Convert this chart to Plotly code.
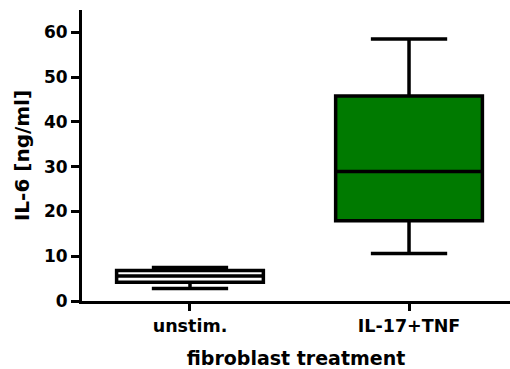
import plotly.graph_objects as go

categories = ["unstim.", "IL-17+TNF"]
lower_whisker = [2.8, 10.6]
q1_values = [4.2, 17.9]
median_values = [5.6, 28.9]
q3_values = [6.8, 45.8]
upper_whisker = [7.5, 58.5]
fill_colors = ["#ffffff", "#007a00"]
y_ticks = [0, 10, 20, 30, 40, 50, 60]

FONT = "DejaVu Sans"

fig = go.Figure()
for i, cat in enumerate(categories):
    fig.add_trace(go.Box(
        x=[cat],
        q1=[q1_values[i]],
        median=[median_values[i]],
        q3=[q3_values[i]],
        lowerfence=[lower_whisker[i]],
        upperfence=[upper_whisker[i]],
        fillcolor=fill_colors[i],
        line=dict(color="black", width=3.5),
        whiskerwidth=0.52,
        width=0.67,
        boxpoints=False,
        showlegend=False,
        hoverinfo="skip",
    ))

fig.update_layout(
    width=510, height=369,
    margin=dict(l=82, r=0, t=10, b=68),
    paper_bgcolor="white",
    plot_bgcolor="white",
    font=dict(family=FONT, color="black", size=17, weight="bold"),
    xaxis=dict(
        type="category",
        categoryorder="array",
        categoryarray=categories,
        range=[-0.493, 1.461],
        showline=True, linecolor="black", linewidth=3,
        ticks="outside", ticklen=7, tickwidth=3, tickcolor="black",
        showgrid=False, zeroline=False,
        tickfont=dict(family=FONT, size=17.5, color="black", weight="bold"),
        title=dict(text="fibroblast treatment", font=dict(family=FONT, size=19, color="black", weight="bold"), standoff=17),
    ),
    yaxis=dict(
        range=[0, 65],
        tickvals=y_ticks,
        showline=True, linecolor="black", linewidth=3,
        ticks="outside", ticklen=8, tickwidth=3, tickcolor="black",
        showgrid=False, zeroline=False,
        tickfont=dict(family=FONT, size=17, color="black", weight="bold"),
        title=dict(text="IL-6 [ng/ml]", font=dict(family=FONT, size=20, color="black", weight="bold"), standoff=9),
    ),
)

fig.write_html("out.html")
